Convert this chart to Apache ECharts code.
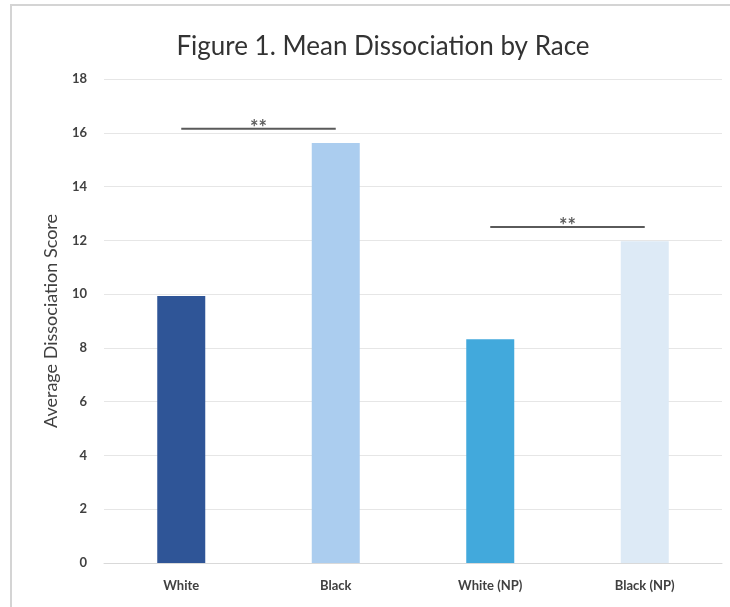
<!DOCTYPE html>
<html>
<head>
<meta charset="utf-8">
<script src="https://cdn.jsdelivr.net/npm/echarts@6/dist/echarts.min.js"></script>
<style>
  html, body { margin: 0; padding: 0; background: #fff; }
  #chart { width: 730px; height: 607px; }
</style>
</head>
<body>
<div id="chart"></div>
<script>
// Group labels and their mean dissociation scores
const categories = ['White', 'Black', 'White (NP)', 'Black (NP)'];
const meanScores = [9.93, 15.62, 8.32, 11.97];
const barColors = ['#2F5597', '#ABCDEF', '#42A9DC', '#DDEAF6'];

// Significance brackets: [from category index, to category index, height, marker]
const sigBrackets = [
  [0, 1, 16.15, '**'],
  [2, 3, 12.5, '**']
];

const FONT = 'Lato, "Open Sans", sans-serif';

const chart = echarts.init(document.getElementById('chart'), null, { renderer: 'canvas' });

const bracketSeries = [];
sigBrackets.forEach(([a, b, h, mark]) => {
  bracketSeries.push({
    type: 'line',
    xAxisIndex: 1,
    data: [[a, h], [b, h]],
    symbol: 'none',
    silent: true,
    lineStyle: { color: '#5A5A5A', width: 2 },
    z: 5
  });
  bracketSeries.push({
    type: 'scatter',
    xAxisIndex: 1,
    data: [[(a + b) / 2, h]],
    symbolSize: 0,
    silent: true,
    label: {
      show: true,
      formatter: mark,
      position: 'top',
      distance: -10,
      color: '#333333',
      fontFamily: FONT,
      fontSize: 20,
      fontWeight: 'bold'
    },
    z: 6
  });
});

chart.setOption({
  backgroundColor: '#ffffff',
  animation: false,
  title: {
    text: 'Figure 1. Mean Dissociation by Race',
    left: 378,
    textAlign: 'center',
    top: 29,
    textStyle: { color: '#333333', fontFamily: FONT, fontSize: 26, fontWeight: 'normal' }
  },
  graphic: [{
    type: 'rect',
    shape: { x: 11, y: 5, width: 760, height: 640 },
    style: { fill: 'none', stroke: '#D4D4D4', lineWidth: 2 },
    silent: true
  }],
  grid: { left: 104, right: 8, top: 79, bottom: 44 },
  xAxis: [{
    type: 'category',
    data: categories,
    axisLine: { lineStyle: { color: '#D9D9D9', width: 1 } },
    axisTick: { show: false },
    axisLabel: { color: '#404040', fontFamily: FONT, fontSize: 13, fontWeight: 'bold', margin: 16 }
  }, {
    type: 'value',
    min: -0.5,
    max: 3.5,
    show: false
  }],
  yAxis: {
    type: 'value',
    min: 0,
    max: 18,
    interval: 2,
    name: 'Average Dissociation Score',
    nameLocation: 'middle',
    nameRotate: 90,
    nameGap: 44,
    nameTextStyle: { color: '#404040', fontFamily: FONT, fontSize: 18 },
    axisLine: { show: false },
    axisTick: { show: false },
    axisLabel: { color: '#404040', fontFamily: FONT, fontSize: 13, fontWeight: 'bold', margin: 17 },
    splitLine: { lineStyle: { color: '#E6E6E6', width: 1 } }
  },
  series: [{
    type: 'bar',
    data: meanScores.map((v, i) => ({ value: v, itemStyle: { color: barColors[i] } })),
    barWidth: 48,
    z: 3
  }].concat(bracketSeries)
});
</script>
</body>
</html>
